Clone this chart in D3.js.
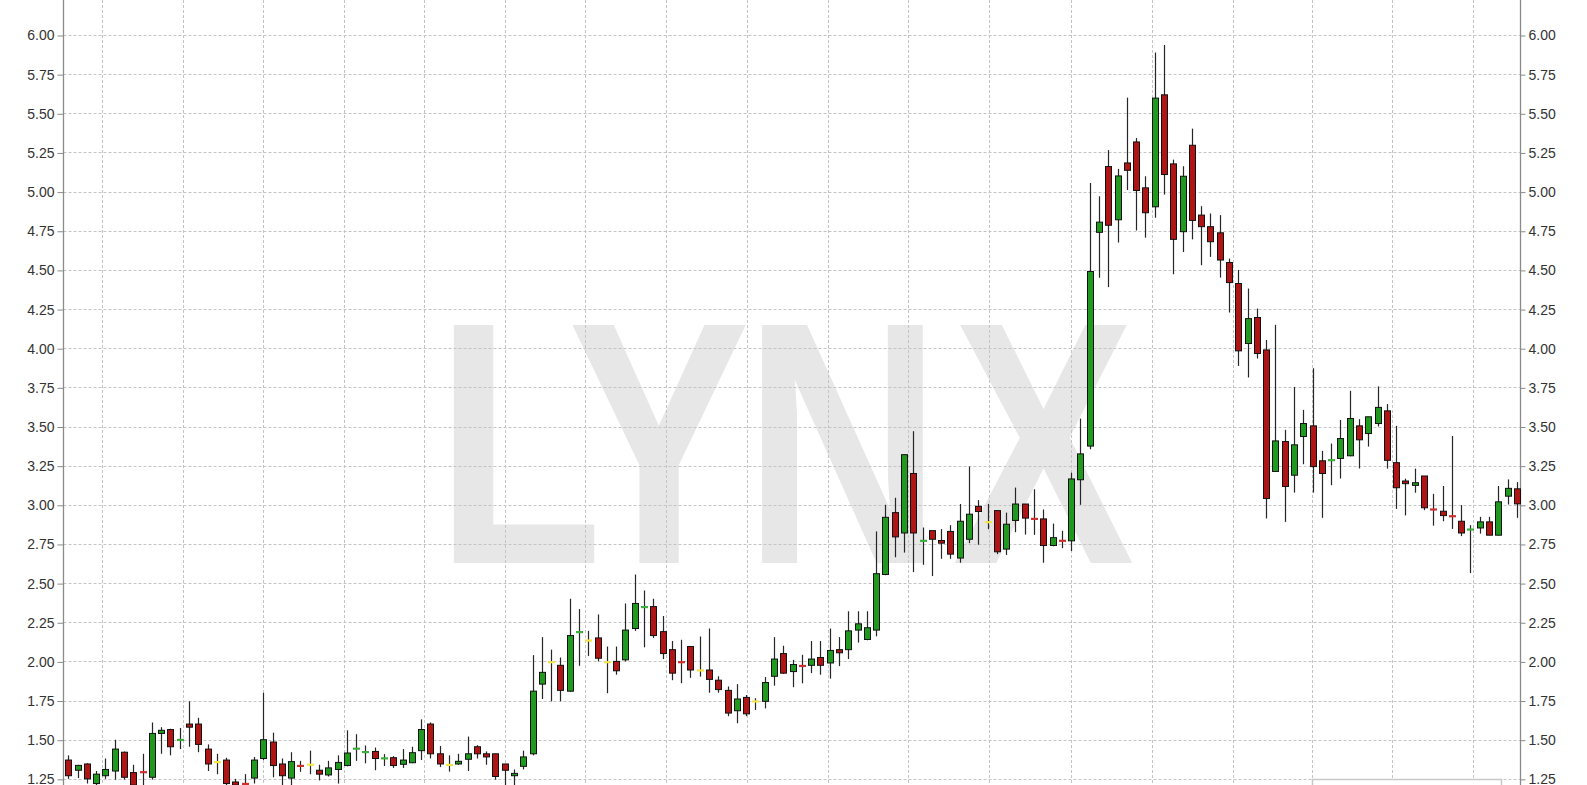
<!DOCTYPE html>
<html><head><meta charset="utf-8">
<script src="https://cdn.jsdelivr.net/npm/d3@7"></script>
<style>html,body{margin:0;padding:0;background:#fff;overflow:hidden}</style>
</head><body>
<svg id="chart" width="1587" height="785"></svg>
<script>
// ---- data ----
const opens = [1.37,1.305,1.345,1.22,1.27,1.30,1.42,1.29,1.295,1.26,1.54,1.565,1.497,1.60,1.60,1.44,1.357,1.37,1.23,1.22,1.255,1.38,1.485,1.345,1.255,1.335,1.34,1.305,1.275,1.31,1.335,1.44,1.419,1.425,1.379,1.385,1.343,1.353,1.43,1.60,1.41,1.339,1.345,1.375,1.455,1.41,1.41,1.345,1.27,1.33,1.41,1.855,1.995,1.975,1.81,2.185,2.133,2.15,1.995,2.0,2.01,2.21,2.345,2.35,2.19,2.075,1.997,2.095,1.942,1.945,1.88,1.815,1.685,1.77,1.744,1.745,1.905,2.05,1.935,1.973,1.975,2.025,1.99,2.075,2.075,2.20,2.14,2.20,2.555,2.95,2.82,3.20,2.768,2.835,2.772,2.83,2.66,2.78,2.99,2.889,2.963,2.717,2.90,3.005,2.912,2.91,2.74,2.772,2.77,3.16,3.375,4.74,5.16,4.82,5.183,5.317,5.024,4.903,5.618,5.177,4.744,5.296,4.85,4.776,4.737,4.547,4.413,4.03,4.196,3.989,3.213,3.404,3.189,3.436,3.504,3.281,3.283,3.296,3.313,3.504,3.455,3.519,3.60,3.269,3.152,3.124,3.184,2.972,2.959,2.929,2.895,2.84,2.852,2.891,2.806,3.055,3.102];
const highs = [1.40,1.34,1.35,1.30,1.38,1.50,1.425,1.34,1.41,1.61,1.58,1.57,1.575,1.745,1.64,1.47,1.41,1.385,1.25,1.28,1.39,1.80,1.545,1.38,1.42,1.365,1.43,1.34,1.365,1.40,1.56,1.535,1.463,1.45,1.408,1.395,1.44,1.455,1.63,1.61,1.46,1.40,1.41,1.52,1.465,1.425,1.41,1.345,1.31,1.43,2.04,2.155,2.075,2.025,2.40,2.334,2.195,2.30,2.095,2.095,2.37,2.555,2.453,2.40,2.29,2.13,2.138,2.095,2.159,2.21,1.905,1.84,1.855,1.785,1.765,1.90,2.155,2.10,2.01,2.042,2.13,2.13,2.21,2.155,2.32,2.32,2.32,2.83,3.0,3.045,3.32,3.47,2.855,2.835,2.845,2.87,3.005,3.245,3.03,3.006,2.963,2.95,3.11,3.005,3.099,2.97,2.88,2.834,3.205,3.55,5.055,4.97,5.265,5.145,5.60,5.342,5.098,5.888,5.936,5.204,5.162,5.402,4.907,4.86,4.85,4.572,4.50,4.381,4.253,4.053,4.149,3.479,3.753,3.606,3.872,3.344,3.391,3.542,3.728,3.547,3.562,3.756,3.643,3.504,3.167,3.231,3.184,3.07,3.12,3.44,2.998,2.87,2.923,2.923,3.12,3.162,3.145];
const lows = [1.25,1.255,1.22,1.20,1.25,1.245,1.245,1.20,1.20,1.245,1.41,1.40,1.44,1.455,1.42,1.30,1.28,1.20,1.20,1.20,1.22,1.37,1.26,1.20,1.21,1.295,1.28,1.24,1.265,1.22,1.33,1.365,1.349,1.305,1.332,1.32,1.32,1.35,1.37,1.38,1.325,1.296,1.34,1.30,1.38,1.34,1.245,1.21,1.21,1.31,1.40,1.76,1.745,1.745,1.805,1.972,2.035,2.00,1.797,1.915,2.0,2.195,2.09,2.15,2.015,1.88,1.861,1.895,1.903,1.80,1.80,1.65,1.605,1.65,1.69,1.70,1.845,1.92,1.835,1.86,1.925,1.915,1.89,1.97,2.015,2.12,2.135,2.16,2.55,2.665,2.695,2.57,2.617,2.545,2.655,2.655,2.63,2.755,2.745,2.844,2.685,2.68,2.825,2.81,2.808,2.63,2.735,2.723,2.705,3.0,3.355,4.45,4.39,4.675,5.01,4.752,4.706,4.833,4.981,4.472,4.614,4.695,4.53,4.583,4.451,4.228,3.887,3.813,3.934,2.913,3.21,2.891,3.078,3.259,3.078,2.917,3.125,3.168,3.31,3.232,3.372,3.50,3.231,2.974,2.932,3.077,2.966,2.867,2.895,2.846,2.80,2.564,2.816,2.805,2.805,3.002,2.917];
const closes = [1.27,1.336,1.25,1.28,1.31,1.44,1.26,1.21,1.29,1.54,1.56,1.455,1.50,1.58,1.47,1.345,1.357,1.22,1.21,1.215,1.37,1.50,1.335,1.27,1.36,1.33,1.34,1.28,1.32,1.355,1.415,1.445,1.423,1.38,1.383,1.335,1.37,1.417,1.565,1.41,1.345,1.339,1.362,1.41,1.41,1.39,1.265,1.305,1.285,1.39,1.81,1.93,1.995,1.815,2.165,2.189,2.133,2.02,1.995,1.94,2.20,2.37,2.349,2.165,2.05,1.925,1.993,1.945,1.942,1.885,1.82,1.67,1.76,1.665,1.744,1.865,2.015,1.925,1.98,1.969,2.015,1.975,2.07,2.055,2.195,2.24,2.215,2.56,2.92,2.795,3.32,2.82,2.772,2.78,2.755,2.685,2.895,2.94,2.957,2.889,2.70,2.876,3.005,2.915,2.908,2.74,2.79,2.768,3.165,3.325,4.49,4.805,4.785,5.10,5.136,5.007,4.865,5.597,5.109,4.695,5.098,4.816,4.776,4.68,4.563,4.419,3.983,4.189,3.966,3.04,3.408,3.117,3.383,3.519,3.244,3.20,3.287,3.423,3.551,3.415,3.562,3.622,3.284,3.109,3.135,3.141,2.981,2.968,2.931,2.925,2.82,2.844,2.891,2.806,3.019,3.105,3.006];
const yTickLabels = ["1.25","1.50","1.75","2.00","2.25","2.50","2.75","3.00","3.25","3.50","3.75","4.00","4.25","4.50","4.75","5.00","5.25","5.50","5.75","6.00"];
const xGridAt = [3.6,12.3,21.0,29.7,38.35,47.0,55.7,64.4,73.1,81.8,90.45,99.15,108.0,116.75,125.4,133.9,142.6,151.25];
const watermarkLetters = ["L","Y","N","X"];

// ---- drawing ----
const W = 1587, H = 785;
const axL = 63.5, axR = 1520.5;
const svg = d3.select("#chart");
const data = opens.map((o,i)=>({i, o, h: highs[i], l: lows[i], c: closes[i]}));

const x = d3.scaleLinear().domain([0, data.length-1]).range([68.3, 1516.8]);
const y = d3.scaleLinear().domain([1.25, 6]).range([778.85, 35]);

svg.append("rect").attr("width",W).attr("height",H).attr("fill","#fff");

// watermark (condensed bold letters)
const wmKern = [0, -44, -8, 14];
svg.append("g").attr("transform","translate(435.6,563) scale(0.79,1)")
  .append("text")
  .attr("font-family","Liberation Sans, Arial, sans-serif")
  .attr("font-weight","bold").attr("font-size", 346)
  .style("font-kerning","none")
  .attr("fill","#e7e7e7")
  .selectAll("tspan").data(watermarkLetters).join("tspan")
  .attr("dx",(d,i)=>wmKern[i]).text(d=>d);

// vertical grid
svg.append("g").selectAll("line").data(xGridAt).join("line")
  .attr("x1", d=>Math.round(x(d))+0.5).attr("x2", d=>Math.round(x(d))+0.5)
  .attr("y1",0).attr("y2",H)
  .attr("stroke","#c4c4c4").attr("stroke-dasharray","3,2").attr("stroke-width",1);

// horizontal grid
const tickVals = yTickLabels.map(Number);
svg.append("g").selectAll("line").data(tickVals).join("line")
  .attr("x1", axL).attr("x2", axR)
  .attr("y1", d=>Math.round(y(d))+0.5).attr("y2", d=>Math.round(y(d))+0.5)
  .attr("stroke","#c4c4c4").attr("stroke-dasharray","3,2").attr("stroke-width",1);

// box edge at the bottom right (top of a cut-off panel)
svg.append("rect").attr("x", Math.round(x(133.9))+0.5).attr("y", Math.round(y(1.25))+0.5)
  .attr("width", 189).attr("height", 20)
  .attr("fill","#fff").attr("stroke","#c8c8c8").attr("stroke-width",1.5);

// axes
const yAxisL = d3.axisLeft(y).tickValues(tickVals).tickFormat((d,i)=>yTickLabels[i]).tickSize(6).tickPadding(3);
const yAxisR = d3.axisRight(y).tickValues(tickVals).tickFormat((d,i)=>yTickLabels[i]).tickSize(5).tickPadding(3);
function styleAxis(g){
  g.select(".domain").remove();
  g.selectAll(".tick line").attr("stroke","#8a8a8a");
  g.selectAll(".tick text").attr("fill","#333").attr("font-size",14)
    .attr("font-family","Liberation Sans, Arial, sans-serif");
}
svg.append("g").attr("transform",`translate(${axL},0.5)`).call(yAxisL).call(styleAxis);
svg.append("g").attr("transform",`translate(${axR},0.5)`).call(yAxisR).call(styleAxis);
svg.append("line").attr("x1",axL).attr("x2",axL).attr("y1",0).attr("y2",H).attr("stroke","#8a8a8a").attr("stroke-width",1.3);
svg.append("line").attr("x1",axR).attr("x2",axR).attr("y1",0).attr("y2",H).attr("stroke","#8a8a8a").attr("stroke-width",1.3);

// candles
const GREEN = "#1f9a1f", RED = "#b01515", YELLOW = "#f2e64a";
const cg = svg.append("g");
const cx = d => Math.round(x(d.i));
cg.selectAll("line.wick").data(data).join("line").attr("class","wick")
  .attr("x1", d=>cx(d)+0.5).attr("x2", d=>cx(d)+0.5)
  .attr("y1", d=>y(d.h)).attr("y2", d=>y(d.l))
  .attr("stroke","#262626").attr("stroke-width",1.2);

const isDoji = d => Math.abs(d.c - d.o) < 0.01;
cg.selectAll("rect.body").data(data.filter(d=>!isDoji(d))).join("rect").attr("class","body")
  .attr("x", d=>cx(d)-2.5).attr("width",6)
  .attr("y", d=>y(Math.max(d.o,d.c)))
  .attr("height", d=>Math.abs(y(d.o)-y(d.c)))
  .attr("fill", d=> d.c>d.o ? GREEN : RED)
  .attr("stroke","#111").attr("stroke-width",1);

cg.selectAll("line.doji").data(data.filter(isDoji)).join("line").attr("class","doji")
  .attr("x1", d=>cx(d)-3).attr("x2", d=>cx(d)+4)
  .attr("y1", d=>y((d.o+d.c)/2)).attr("y2", d=>y((d.o+d.c)/2))
  .attr("stroke", d=> d.c>d.o ? "#3cb03c" : (d.c<d.o ? "#d03030" : YELLOW))
  .attr("stroke-width",2.2);
</script>
</body></html>
